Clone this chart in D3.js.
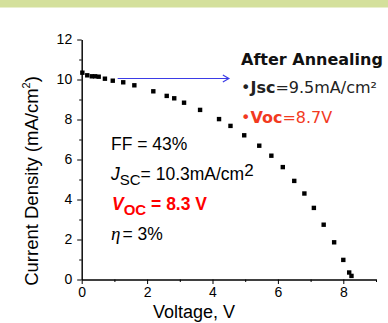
<!DOCTYPE html>
<html>
<head>
<meta charset="utf-8">
<script src="https://cdn.jsdelivr.net/npm/d3@7"></script>
<style>
  body { margin: 0; background: #fff; }
  svg { display: block; font-family: "Liberation Sans", Arial, sans-serif; }
  .axis path, .axis line { stroke: #000; stroke-width: 1; }
  .axis text { font-size: 14px; fill: #000; font-family: "Liberation Sans", Arial, sans-serif; }
</style>
</head>
<body>
<div id="chart"></div>
<script>
// J-V data
const voltage = [0.02, 0.17, 0.31, 0.41, 0.52, 0.71, 0.95, 1.27, 1.61, 2.19, 2.60, 2.83, 3.13,
  3.62, 4.20, 4.55, 4.97, 5.43, 5.80, 6.15, 6.50, 6.81, 7.10, 7.40, 7.72, 8.00, 8.18, 8.25];
const current = [10.34, 10.21, 10.16, 10.16, 10.14, 10.04, 9.94, 9.86, 9.71, 9.41, 9.18, 9.06, 8.84,
  8.48, 8.02, 7.68, 7.21, 6.69, 6.19, 5.62, 4.93, 4.30, 3.58, 2.74, 1.86, 0.98, 0.35, 0.18];
const xTicks = [0, 2, 4, 6, 8];
const xMinor = [1, 3, 5, 7, 9];
const yTicks = [0, 2, 4, 6, 8, 10, 12];
const yMinor = [1, 3, 5, 7, 9, 11];
const arrowV = [1.1, 4.5];
const arrowJ = 10.05;

const W = 388, H = 323;
const svg = d3.select("#chart").append("svg").attr("width", W).attr("height", H);

// green band at top
svg.append("rect").attr("x", 0).attr("y", 0).attr("width", W).attr("height", 7.5).attr("fill", "#d4e09c");

const x = d3.scaleLinear().domain([0, 9]).range([81.7, 376]);
const y = d3.scaleLinear().domain([0, 12]).range([279.5, 39.5]);

// axes
svg.append("g").attr("class", "axis").attr("transform", `translate(0,${y(0)})`)
  .call(d3.axisBottom(x).tickValues(xMinor).tickSize(2.5).tickFormat("").tickSizeOuter(0));
svg.append("g").attr("class", "axis").attr("transform", `translate(0,${y(0)})`)
  .call(d3.axisBottom(x).tickValues(xTicks).tickSize(4.5).tickPadding(3).tickSizeOuter(0));
svg.append("g").attr("class", "axis").attr("transform", `translate(0,0)`)
  .attr("transform", `translate(${x(0)},0)`)
  .call(d3.axisLeft(y).tickValues(yMinor).tickSize(2.5).tickFormat("").tickSizeOuter(0));
svg.append("g").attr("class", "axis").attr("transform", `translate(${x(0)},0)`)
  .call(d3.axisLeft(y).tickValues(yTicks).tickSize(4.5).tickPadding(5).tickSizeOuter(0));

// axis titles
svg.append("text").attr("x", 194).attr("y", 318).attr("text-anchor", "middle")
  .attr("font-size", 18).text("Voltage, V");
const yl = svg.append("text").attr("transform", "translate(38,181) rotate(-90)")
  .attr("text-anchor", "middle").attr("font-size", 18.5);
yl.append("tspan").text("Current Density (mA/cm");
yl.append("tspan").attr("font-size", 11).attr("dy", -8).text("2");
yl.append("tspan").attr("dy", 8).text(")");

// arrow
const blue = "#3b3be6";
svg.append("line").attr("x1", x(arrowV[0])).attr("x2", x(arrowV[1]))
  .attr("y1", y(arrowJ)).attr("y2", y(arrowJ)).attr("stroke", blue).attr("stroke-width", 1.2);
svg.append("path")
  .attr("d", `M${x(arrowV[1]) - 6},${y(arrowJ) - 3.5}L${x(arrowV[1])},${y(arrowJ)}L${x(arrowV[1]) - 6},${y(arrowJ) + 3.5}`)
  .attr("fill", "none").attr("stroke", blue).attr("stroke-width", 1.2);

// points
const pts = voltage.map((v, i) => ({ v, j: current[i] }));
const s = 4.4;
svg.append("g").selectAll("rect").data(pts).enter().append("rect")
  .attr("x", d => x(d.v) - s / 2).attr("y", d => y(d.j) - s / 2)
  .attr("width", s).attr("height", s).attr("fill", "#000");

// left annotations
const fs = 17.5;
svg.append("text").attr("x", 111).attr("y", 150).attr("font-size", fs).text("FF = 43%");

const jsc = svg.append("text").attr("x", 111).attr("y", 179.5).attr("font-size", fs);
jsc.append("tspan").attr("font-style", "italic").text("J");
jsc.append("tspan").attr("font-size", 15).attr("dy", 5).text("SC");
jsc.append("tspan").attr("dy", -5).text("= 10.3mA/cm");
jsc.append("tspan").attr("dy", -4).attr("font-size", 17).text("2");

const voc = svg.append("text").attr("x", 112).attr("y", 210).attr("font-size", fs)
  .attr("font-weight", "bold").attr("fill", "#ff0000");
voc.append("tspan").attr("font-style", "italic").text("V");
voc.append("tspan").attr("font-size", 15).attr("dy", 5).text("OC");
voc.append("tspan").attr("dy", -5).text(" = 8.3 V");

const eta = svg.append("text").attr("x", 111).attr("y", 240).attr("font-size", fs);
eta.append("tspan").attr("font-family", "'Liberation Serif', 'Times New Roman', serif")
  .attr("font-style", "italic").attr("font-size", 19).text("η");
eta.append("tspan").attr("dx", 2).text("= 3%");

// right annotations
const vf = "Verdana, 'DejaVu Sans', sans-serif";
svg.append("text").attr("x", 241).attr("y", 65).attr("font-family", vf).attr("font-size", 16)
  .attr("font-weight", "bold").attr("fill", "#111").text("After Annealing");
const r1 = svg.append("text").attr("x", 241).attr("y", 93).attr("font-family", vf)
  .attr("font-size", 16).attr("fill", "#222");
r1.append("tspan").text("•");
r1.append("tspan").attr("font-weight", "bold").text("Jsc");
r1.append("tspan").text("=9.5mA/cm²");
const r2 = svg.append("text").attr("x", 241).attr("y", 122.5).attr("font-family", vf)
  .attr("font-size", 16).attr("fill", "#f23a1f");
r2.append("tspan").text("•");
r2.append("tspan").attr("font-weight", "bold").text("Voc");
r2.append("tspan").text("=8.7V");
</script>
</body>
</html>
